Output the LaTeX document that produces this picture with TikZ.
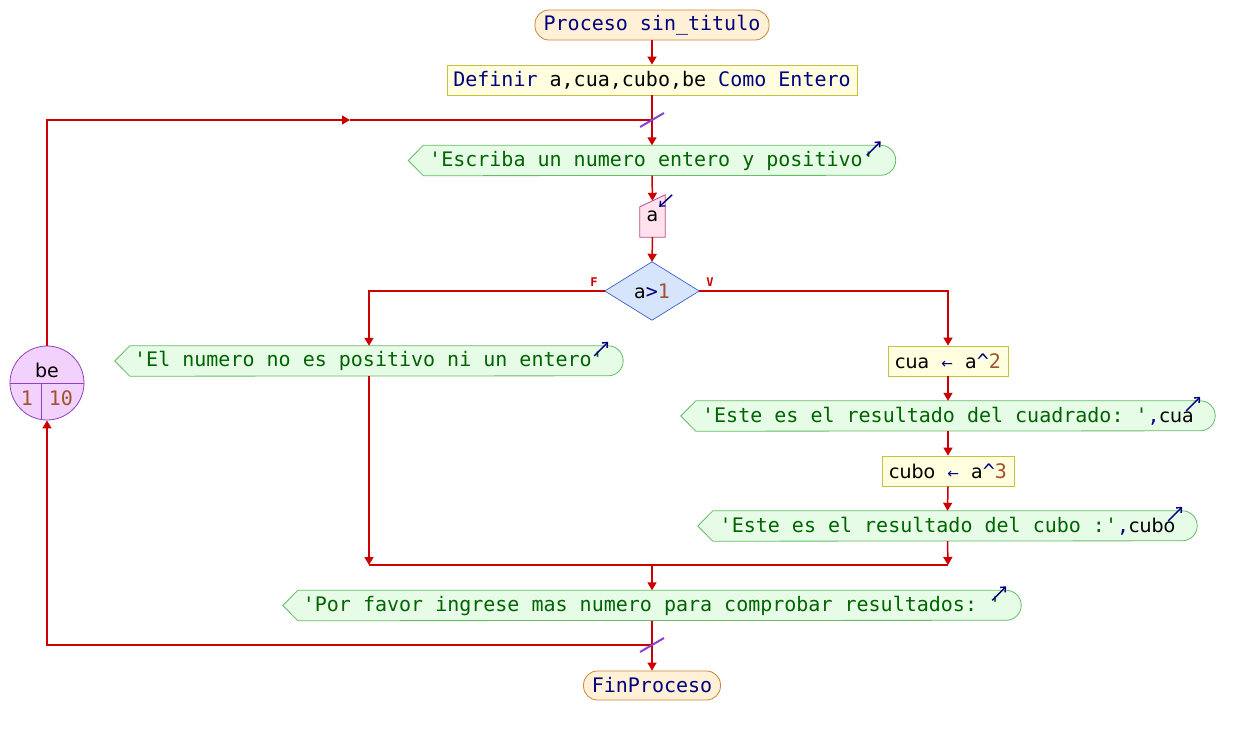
\documentclass[tikz,border=0pt]{standalone}
\usepackage{fontspec}
\setmonofont{DejaVu Sans Mono}
\newfontfamily\varfont{DejaVu Sans}
\usetikzlibrary{arrows.meta,calc}
\pgfdeclarelayer{back}
\pgfdeclarelayer{bg}
\pgfsetlayers{back,bg,main}

\definecolor{flowred}{HTML}{CC0000}
\definecolor{kwc}{HTML}{00007F}
\definecolor{strc}{HTML}{006400}
\definecolor{numc}{HTML}{A0522D}
\definecolor{termfill}{HTML}{FFF0D6}
\definecolor{termdraw}{HTML}{C8883C}
\definecolor{procfill}{HTML}{FFFFE0}
\definecolor{procdraw}{HTML}{C8C040}
\definecolor{outfill}{HTML}{E6FCE6}
\definecolor{outdraw}{HTML}{66BB66}
\definecolor{infill}{HTML}{FFE2EE}
\definecolor{indraw}{HTML}{C04A80}
\definecolor{decfill}{HTML}{D6E4FC}
\definecolor{decdraw}{HTML}{4060C8}
\definecolor{loopfill}{HTML}{F2D2FC}
\definecolor{loopdraw}{HTML}{9040C0}
\definecolor{slashc}{HTML}{8844CC}

\newcommand\kwd[1]{\textcolor{kwc}{#1}}
\newcommand\strg[1]{\textcolor{strc}{#1}}
\newcommand\vr[1]{{\varfont\fontsize{19}{22}\selectfont\textcolor{black}{#1}}}
\newcommand\numv[1]{\textcolor{numc}{#1}}
\newcommand\asg{\kwd{{\varfont\fontsize{14}{16}\selectfont ←}}}

% output (write) block: pointed left end, rounded right end, with its icon
\newcommand\outshape[1]{%
  \begin{pgfonlayer}{bg}
    \draw[outline] ([xshift=-15pt]#1.west) -- (#1.north west) -- (#1.north east)
      arc[start angle=90,end angle=-90,radius=15pt] -- (#1.south west) -- cycle;
  \end{pgfonlayer}
  \draw[icon] ($(#1.north east)+(-14,10)$) -- ($(#1.north east)+(0,-4)$);}

\tikzset{
  flow/.style={draw=flowred, line width=1.5pt},
  arr/.style={flow, -{Triangle[length=8pt,width=9pt]}},
  box/.style={rectangle, inner sep=0pt, minimum height=30pt, align=center},
  termbox/.style={box, draw=termdraw, fill=termfill, rounded corners=14pt, line width=0.8pt},
  procbox/.style={box, draw=procdraw, fill=procfill, line width=0.8pt},
  outline/.style={draw=outdraw, fill=outfill, line width=0.8pt},
  icon/.style={draw=kwc, line width=1.4pt, -{Straight Barb[length=4pt,width=7pt]}},
  slash/.style={draw=slashc, line width=2pt},
  branchlbl/.style={text=flowred, font=\ttfamily\bfseries\fontsize{12}{14}\selectfont, inner sep=0pt},
}

\begin{document}
\begin{tikzpicture}[x=1pt,y=-1pt,font=\ttfamily\fontsize{20}{24}\selectfont]
\begin{pgfonlayer}{back}
  \fill[white] (0,0) rectangle (1234,736);
\end{pgfonlayer}
\useasboundingbox (0,0) rectangle (1234,736);

% terminals and declarations
\node[termbox, minimum width=234pt] (start) at (652,25) {\kwd{Proceso sin\_titulo}};
\node[procbox, minimum width=410pt] (def) at (652,80)
  {\kwd{Definir} a,cua,cubo,be \kwd{Como Entero}};

% read prompt and input
\node[box, minimum width=457pt] (o0) at (652,160.5) {\strg{'Escriba un numero entero y positivo'}};
\outshape{o0}

\node[box, minimum width=25pt, minimum height=42pt] (inp) at (652.5,216) {\raisebox{-5pt}{\vr{a}}};
\begin{pgfonlayer}{bg}
  \draw[draw=indraw, fill=infill, line width=0.8pt]
    (inp.south west) -- ([yshift=-12pt]inp.north west) -- (inp.north east) -- (inp.south east) -- cycle;
\end{pgfonlayer}
\coordinate (inptop) at ($([yshift=-12pt]inp.north west)!0.5!(inp.north east)$);
\draw[icon] ($(inp.north east)+(7,0)$) -- ($(inp.north east)+(-6,12)$);

% decision
\node[box, minimum width=94pt, minimum height=58pt] (dia) at (652,291)
  {\vr{a}\kwd{>}\numv{1}};
\begin{pgfonlayer}{bg}
  \draw[draw=decdraw, fill=decfill, line width=0.7pt]
    (dia.north) -- (dia.east) -- (dia.south) -- (dia.west) -- cycle;
\end{pgfonlayer}
\node[branchlbl] (lf) at (594,282) {F};
\node[branchlbl] (lv) at (710,282) {V};

% false branch
\node[box, minimum width=478pt] (o1) at (369,361) {\strg{'El numero no es positivo ni un entero'}};
\outshape{o1}

% true branch
\node[procbox, minimum width=120pt] (cua) at (948,361) {\vr{cua} \asg{} \vr{a}\kwd{\^{}}\numv{2}};
\node[box, minimum width=504pt] (o2) at (948,416) {\strg{'Este es el resultado del cuadrado: '}\kwd{,}\vr{cua}};
\outshape{o2}
\node[procbox, minimum width=132pt] (cubo) at (948,471) {\vr{cubo} \asg{} \vr{a}\kwd{\^{}}\numv{3}};
\node[box, minimum width=469pt] (o3) at (947.5,526) {\strg{'Este es el resultado del cubo :'}\kwd{,}\vr{cubo}};
\outshape{o3}

% closing prompt and end
\node[box, minimum width=708pt] (o4) at (652,605.5) {\strg{'Por favor ingrese mas numero para comprobar resultados: '}};
\outshape{o4}
\node[termbox, minimum width=137pt, minimum height=29pt] (fin) at (652,685.5) {\kwd{FinProceso}};

% loop counter
\node[circle, draw=loopdraw, fill=loopfill, line width=0.8pt, minimum size=74pt, inner sep=0pt] (loopc) at (47,383) {};
\draw[draw=loopdraw, line width=0.8pt] (loopc.west) -- (loopc.east);
\draw[draw=loopdraw, line width=0.8pt] ($(loopc.center)+(-6,0)$) -- ($(loopc.center)+(-6,36.5)$);
\node[inner sep=0pt] (lvar) at (47,370) {\vr{be}};
\node[inner sep=0pt] (lfrom) at (27,398) {\numv{1}};
\node[inner sep=0pt] (lto) at (61,398) {\numv{10}};

% junction points
\coordinate (j1) at (652,120);
\coordinate (j2) at (652,645);
\coordinate (lmid) at (350,120);
\coordinate (m1) at (369,565);
\coordinate (m2) at (948,565);
\coordinate (m3) at (652,565);

% connectors
\draw[arr] (start.south) -- (def.north);
\draw[arr] (def.south) -- (o0.north);
\draw[arr] (o0.south) -- (inptop);
\draw[arr] (inp.south) -- (dia.north);
\draw[arr] (dia.west) -| (o1.north);
\draw[arr] (dia.east) -| (cua.north);
\draw[arr] (cua.south) -- (o2.north);
\draw[arr] (o2.south) -- (cubo.north);
\draw[arr] (cubo.south) -- (o3.north);
\draw[arr] (o1.south) -- (m1);
\draw[arr] (o3.south) -- (m2);
\draw[flow] (m1) -- (m2);
\draw[arr] (m3) -- (o4.north);
\draw[flow] (o4.south) -- (j2);
\draw[arr] (j2) -- (fin.north);
\draw[arr] (j2) -| (loopc.south);
\draw[arr] (loopc.north) |- (lmid);
\draw[flow] (lmid) -- (j1);

% loop markers
\draw[slash] ($(j1)+(-12,7)$) -- ($(j1)+(12,-7)$);
\draw[slash] ($(j2)+(-12,7)$) -- ($(j2)+(12,-7)$);
\end{tikzpicture}
\end{document}
